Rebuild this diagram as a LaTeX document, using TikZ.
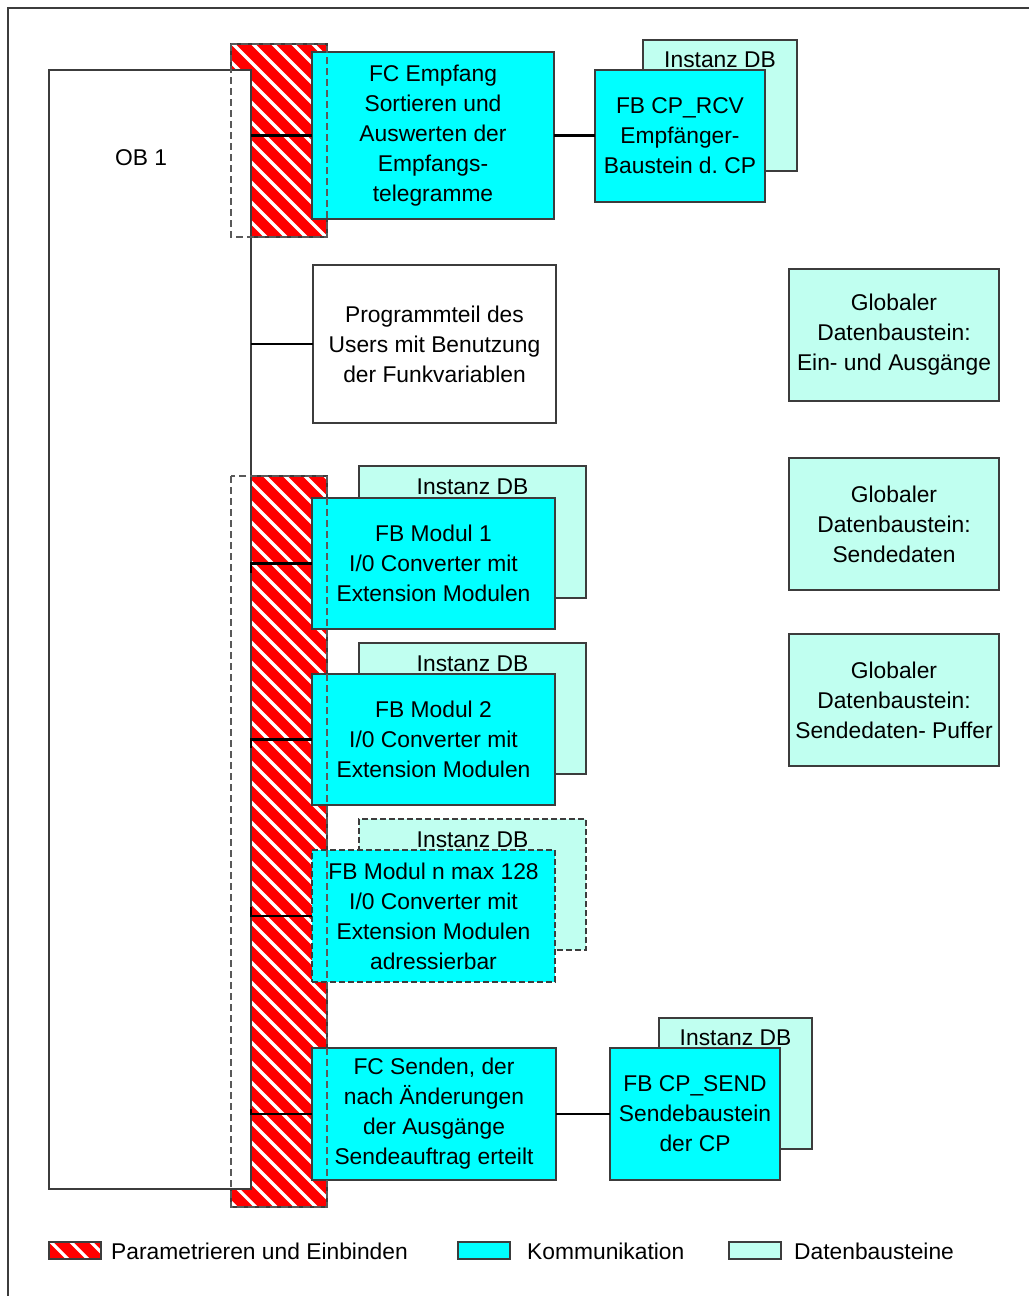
\documentclass[tikz,border=0pt]{standalone}
\usepackage{fontspec}
\setmainfont{Liberation Sans}
\frenchspacing
\definecolor{cyanbox}{RGB}{0,255,255}
\definecolor{mint}{RGB}{192,255,240}
\definecolor{hatchred}{RGB}{255,0,0}
\definecolor{edge}{RGB}{60,60,60}
\newcommand\myhatch[4]{%
  \begin{scope}
    \clip (#1,#2) rectangle (#3,#4);
    \fill[hatchred] (#1,#2) rectangle (#3,#4);
    \foreach \k in {-60,...,16}{%
      \pgfmathsetmacro\cc{9+20*\k}%
      \draw[white,line width=3.2pt] (\cc,0) -- (\cc+1300,1300);
    }
  \end{scope}
  \draw[edge,line width=1.2pt] (#1,#2) rectangle (#3,#4);
}
\begin{document}
\begin{tikzpicture}[x=1pt,y=-1pt,
  box/.style={draw=edge, line width=1.2pt, inner sep=0pt, outer sep=0pt, align=center,
    anchor=north west, font=\fontsize{22.8}{30}\selectfont},
  comm/.style={box, fill=cyanbox},
  datab/.style={box, fill=mint},
  plain/.style={box, fill=white},
  wire/.style={draw=black, line width=2.5pt, line join=miter},
  redout/.style={draw=black!65, line width=1.2pt, dash pattern=on 7pt off 4pt},
  dashbox/.style={dash pattern=on 6pt off 3pt},
  lbl/.style={font=\fontsize{22.8}{30}\selectfont, inner sep=0pt}
]
\useasboundingbox (0,0) rectangle (1029,1296);
% outer frame
\draw[edge,line width=1.2pt] (8,1296) -- (8,8) -- (1029,8);

% red hatched areas
\myhatch{231}{44}{327}{237}
\myhatch{231}{476}{327}{1207}

% OB 1
\node[plain, minimum width=202pt, minimum height=1119pt] (ob) at (49,70) {};
\node[lbl] (obtxt) at (141,158) {OB 1};

% top row
\node[comm, minimum width=242pt, minimum height=167pt] (fcE) at (312,52)
  {FC Empfang\\Sortieren und\\Auswerten der\\Empfangs-\\telegramme};
\node[datab, minimum width=154pt, minimum height=131pt] (idbR) at (643,40) {};
\node[lbl] (idbRt) at ([yshift=-20pt]idbR.north) {Instanz DB};
\node[comm, minimum width=170pt, minimum height=132pt] (fbR) at (595,70)
  {FB CP\_RCV\\Empfänger-\\Baustein d. CP};

% program part
\node[plain, minimum width=243pt, minimum height=158pt] (prog) at (313,265)
  {Programmteil des\\Users mit Benutzung\\der Funkvariablen};

% global DBs
\node[datab, minimum width=210pt, minimum height=132pt] (g1) at (789,269)
  {Globaler\\Datenbaustein:\\Ein- und Ausgänge};
\node[datab, minimum width=210pt, minimum height=132pt] (g2) at (789,458)
  {Globaler\\Datenbaustein:\\Sendedaten};
\node[datab, minimum width=210pt, minimum height=132pt] (g3) at (789,634)
  {Globaler\\Datenbaustein:\\Sendedaten- Puffer};

% modules
\node[datab, minimum width=227pt, minimum height=132pt] (idb1) at (359,466) {};
\node[lbl] (idb1t) at ([yshift=-21pt]idb1.north) {Instanz DB};
\node[comm, minimum width=243pt, minimum height=131pt] (m1) at (312,498)
  {FB Modul 1\\I/0 Converter mit\\Extension Modulen};

\node[datab, minimum width=227pt, minimum height=131pt] (idb2) at (359,643) {};
\node[lbl] (idb2t) at ([yshift=-21pt]idb2.north) {Instanz DB};
\node[comm, minimum width=243pt, minimum height=131pt] (m2) at (312,674)
  {FB Modul 2\\I/0 Converter mit\\Extension Modulen};

\node[datab, dashbox, minimum width=227pt, minimum height=131pt] (idbn) at (359,819) {};
\node[lbl] (idbnt) at ([yshift=-21pt]idbn.north) {Instanz DB};
\node[comm, dashbox, minimum width=243pt, minimum height=132pt] (mn) at (312,850)
  {FB Modul n max 128\\I/0 Converter mit\\Extension Modulen\\adressierbar};

% send
\node[comm, minimum width=244pt, minimum height=132pt] (fcS) at (312,1048)
  {FC Senden, der\\nach Änderungen\\der Ausgänge\\Sendeauftrag erteilt};
\node[datab, minimum width=153pt, minimum height=131pt] (idbS) at (659,1018) {};
\node[lbl] (idbSt) at ([yshift=-20pt]idbS.north) {Instanz DB};
\node[comm, minimum width=170pt, minimum height=132pt] (fbS) at (610,1048)
  {FB CP\_SEND\\Sendebaustein\\der CP};

% dashed outlines of the hatched areas on top
\draw[redout] (231,44) rectangle (327,237);
\draw[redout] (231,476) rectangle (327,1207);

% connectors
\draw[wire] (fcE.west -| ob.east) -- (fcE.west);
\draw[wire] (fcE.east) -- (fcE.east -| fbR.west);
\draw[wire] (prog.west -| ob.east) -- (prog.west);
\draw[wire] ([yshift=-9pt]m1.west -| ob.east) -- (m1.west -| ob.east) -- (m1.west);
\draw[wire] ([yshift=-8pt]m2.west -| ob.east) -- (m2.west -| ob.east) -- (m2.west);
\draw[wire] ([yshift=9pt]mn.west -| ob.east) -- (mn.west -| ob.east) -- (mn.west);
\draw[wire] ([yshift=5pt]fcS.west -| ob.east) -- (fcS.west -| ob.east) -- (fcS.west);
\draw[wire] (fcS.east) -- (fbS.west);

% legend
\myhatch{49}{1242}{101}{1259}
\node[lbl, anchor=west] (l1) at (111,1251) {Parametrieren und Einbinden};
\node[comm, minimum width=52pt, minimum height=17pt] (s2) at (458,1242) {};
\node[lbl, anchor=west] (l2) at (527,1251) {Kommunikation};
\node[datab, minimum width=52pt, minimum height=17pt] (s3) at (729,1242) {};
\node[lbl, anchor=west] (l3) at (794,1251) {Datenbausteine};
\end{tikzpicture}
\end{document}
